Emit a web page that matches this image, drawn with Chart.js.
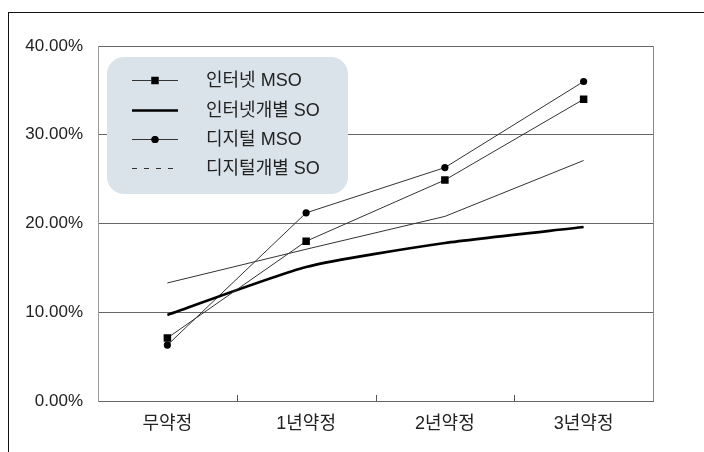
<!DOCTYPE html>
<html>
<head>
<meta charset="utf-8">
<script src="https://cdn.jsdelivr.net/npm/chart.js@4.4.1/dist/chart.umd.min.js"></script>
<style>
  html, body { margin: 0; padding: 0; background: #fff; overflow: hidden; }
  #wrap { position: relative; width: 704px; height: 452px; }
  #frame { position: absolute; left: 8px; top: 12px; width: 800px; height: 600px;
           border: 1.5px solid #111; box-sizing: border-box; pointer-events: none; }
  canvas { position: absolute; left: 0; top: 0; }
</style>
</head>
<body>
<div id="wrap">
  <canvas id="c" width="704" height="452"></canvas>
  <div id="frame"></div>
</div>
<script>
// 약정 기간별 해지율
const categories = ['무약정', '1년약정', '2년약정', '3년약정'];
const seriesNames = ['인터넷 MSO', '인터넷개별 SO', '디지털 MSO', '디지털개별 SO'];
const internetMso = [7.1, 18.0, 24.9, 34.0];
const internetSo = [9.7, 15.1, 17.8, 19.6];
const digitalMso = [6.3, 21.2, 26.3, 36.0];
const digitalSo = [13.3, 17.1, 20.8, 27.1];
const yTicks = [0, 10, 20, 30, 40];

const LATIN = '"Liberation Sans", Arial';
const FONT_FAMILY = LATIN + ', "Noto Sans CJK KR", sans-serif';

const datasets = [
  { label: seriesNames[0], data: internetMso, borderColor: '#333', borderWidth: 1,
    pointStyle: 'rect', pointRadius: 5.3, pointBackgroundColor: '#000', pointBorderWidth: 0,
    legendDash: [] },
  { label: seriesNames[1], data: internetSo, borderColor: '#000', borderWidth: 2.6,
    pointRadius: 0, tension: 0.2, legendDash: [] },
  { label: seriesNames[2], data: digitalMso, borderColor: '#333', borderWidth: 1,
    pointStyle: 'circle', pointRadius: 3.6, pointBackgroundColor: '#000', pointBorderWidth: 0,
    legendDash: [] },
  { label: seriesNames[3], data: digitalSo, borderColor: '#333', borderWidth: 1,
    pointRadius: 0, legendDash: [5, 7] }
];
datasets.forEach(d => { d.fill = false; d.pointHoverRadius = d.pointRadius; });

// Plot frame, inner tick marks and the rounded legend box
const decorations = {
  id: 'decorations',
  afterDraw(chart) {
    const { ctx, chartArea: a, scales: { x } } = chart;
    ctx.save();
    // right border of the plot
    ctx.strokeStyle = '#888';
    ctx.lineWidth = 1;
    ctx.beginPath();
    ctx.moveTo(Math.round(a.right) + 0.5, a.top);
    ctx.lineTo(Math.round(a.right) + 0.5, a.bottom);
    ctx.stroke();
    // category separators on the x axis
    ctx.strokeStyle = '#555';
    for (let i = 1; i < categories.length; i++) {
      const px = Math.round((x.getPixelForValue(i - 1) + x.getPixelForValue(i)) / 2) + 0.5;
      ctx.beginPath();
      ctx.moveTo(px, a.bottom);
      ctx.lineTo(px, a.bottom - 6);
      ctx.stroke();
    }
    // legend
    const bx = 107, by = 57, bw = 241, bh = 137, r = 17;
    ctx.fillStyle = '#d9e3e9';
    ctx.beginPath();
    ctx.roundRect(bx, by, bw, bh, r);
    ctx.fill();
    const rowY = [80, 110, 139, 168];
    chart.data.datasets.forEach((d, i) => {
      const y = rowY[i];
      ctx.strokeStyle = d.borderColor;
      ctx.lineWidth = d.borderWidth;
      ctx.setLineDash(d.legendDash);
      ctx.beginPath();
      ctx.moveTo(132, y + 0.5);
      ctx.lineTo(178, y + 0.5);
      ctx.stroke();
      ctx.setLineDash([]);
      if (d.pointRadius > 0) {
        Chart.helpers.drawPoint(ctx, {
          pointStyle: d.pointStyle, radius: d.pointRadius, rotation: 0, borderWidth: 0
        }, 155, y + 0.5);
        ctx.fillStyle = '#000';
        ctx.fill();
      }
      ctx.fillStyle = '#222';
      ctx.font = '18px ' + FONT_FAMILY;
      ctx.textBaseline = 'middle';
      ctx.textAlign = 'left';
      ctx.fillText(d.label, 206, y + 1);
    });
    ctx.restore();
  }
};

new Chart(document.getElementById('c'), {
  type: 'line',
  data: { labels: categories, datasets },
  options: {
    responsive: false,
    animation: false,
    events: [],
    layout: { padding: { left: 0, right: 51, top: 46, bottom: 0 } },
    plugins: { legend: { display: false }, tooltip: { enabled: false } },
    scales: {
      x: {
        offset: true,
        grid: { display: false, drawTicks: false },
        border: { display: true, color: '#666', width: 1 },
        ticks: { color: '#222', padding: 12, font: { family: FONT_FAMILY, size: 18 } },
        afterFit(s) { s.height = 51; }
      },
      y: {
        min: yTicks[0], max: yTicks[yTicks.length - 1],
        afterBuildTicks(s) { s.ticks = yTicks.map(v => ({ value: v })); },
        grid: { color: '#666', lineWidth: 1, drawTicks: false },
        border: { display: true, color: '#999', width: 1 },
        ticks: { color: '#222', padding: 15, font: { family: FONT_FAMILY, size: 17 },
                 callback: v => v.toFixed(2) + '%' },
        afterFit(s) { s.width = 98; }
      }
    }
  },
  plugins: [decorations]
});
</script>
</body>
</html>
